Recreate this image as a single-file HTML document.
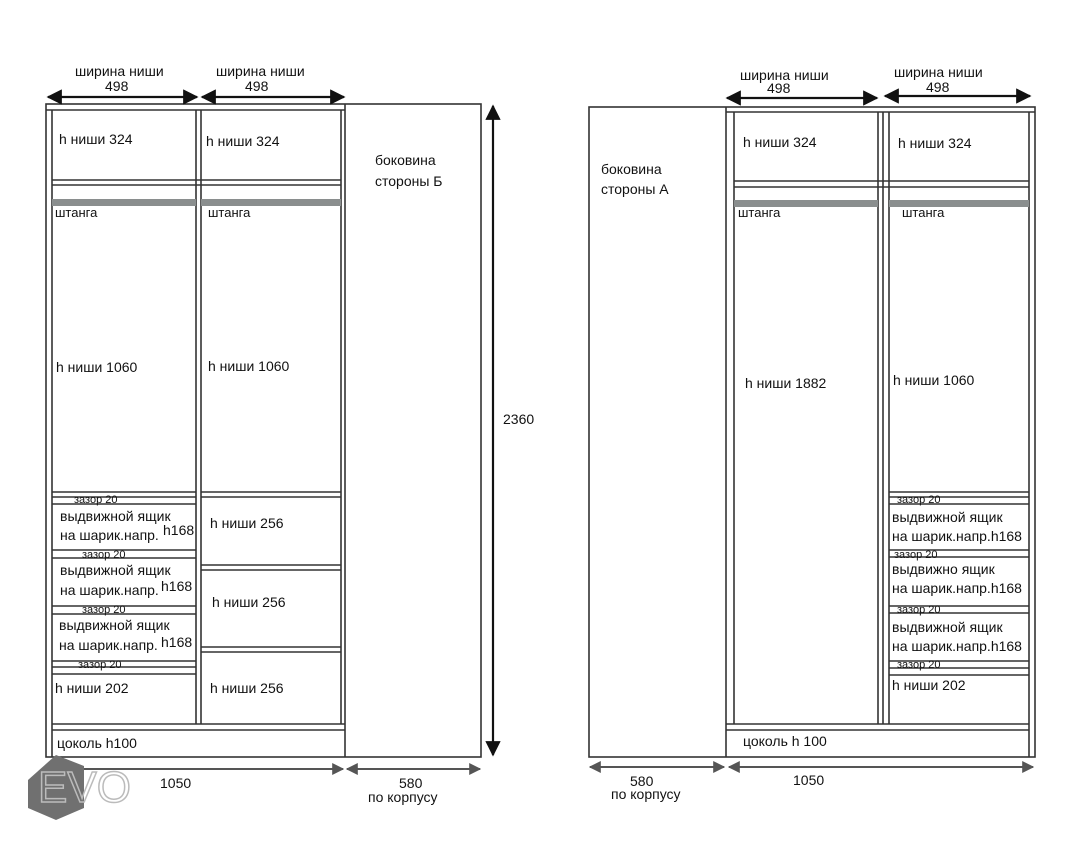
<!DOCTYPE html>
<html><head><meta charset="utf-8"><style>
body{margin:0;background:#fff;width:1080px;height:850px;overflow:hidden}
svg text{font-family:"Liberation Sans","DejaVu Sans",sans-serif;fill:#111}
</style></head><body>
<svg width="1080" height="850" viewBox="0 0 1080 850" xmlns="http://www.w3.org/2000/svg">
<defs>
<marker id="a" viewBox="0 0 10 10" refX="9" refY="5" markerWidth="7" markerHeight="7" orient="auto-start-reverse"><path d="M0,0L10,5L0,10z" fill="#111"/></marker>
<marker id="g" viewBox="0 0 10 10" refX="9" refY="5" markerWidth="6" markerHeight="6" orient="auto-start-reverse"><path d="M0,0L10,5L0,10z" fill="#555"/></marker>
</defs>
<g stroke="#333" stroke-width="1.6" fill="none">
<!-- LEFT UNIT -->
<rect x="46" y="104" width="435" height="653"/>
<line x1="345" y1="104" x2="345" y2="757"/>
<line x1="52" y1="110" x2="52" y2="757"/>
<line x1="341" y1="110" x2="341" y2="724"/>
<line x1="196" y1="110" x2="196" y2="724"/>
<line x1="201" y1="110" x2="201" y2="724"/>
<line x1="46" y1="110" x2="345" y2="110"/>
<line x1="52" y1="180" x2="341" y2="180"/><line x1="52" y1="185" x2="341" y2="185"/>
<line x1="52" y1="492" x2="196" y2="492"/><line x1="52" y1="497" x2="196" y2="497"/><line x1="52" y1="504" x2="196" y2="504"/>
<line x1="52" y1="550" x2="196" y2="550"/><line x1="52" y1="558" x2="196" y2="558"/>
<line x1="52" y1="606" x2="196" y2="606"/><line x1="52" y1="614" x2="196" y2="614"/>
<line x1="52" y1="661" x2="196" y2="661"/><line x1="52" y1="667" x2="196" y2="667"/><line x1="52" y1="674" x2="196" y2="674"/>
<line x1="201" y1="492" x2="341" y2="492"/><line x1="201" y1="497" x2="341" y2="497"/>
<line x1="201" y1="565" x2="341" y2="565"/><line x1="201" y1="570" x2="341" y2="570"/>
<line x1="201" y1="647" x2="341" y2="647"/><line x1="201" y1="652" x2="341" y2="652"/>
<line x1="52" y1="724" x2="345" y2="724"/><line x1="52" y1="730" x2="345" y2="730"/>
<!-- RIGHT UNIT -->
<rect x="589" y="107" width="446" height="650"/>
<line x1="726" y1="107" x2="726" y2="757"/>
<line x1="734" y1="112" x2="734" y2="724"/>
<line x1="878" y1="112" x2="878" y2="724"/><line x1="883" y1="112" x2="883" y2="724"/><line x1="889" y1="112" x2="889" y2="724"/>
<line x1="1029" y1="112" x2="1029" y2="757"/>
<line x1="726" y1="112" x2="1035" y2="112"/>
<line x1="734" y1="181" x2="1029" y2="181"/><line x1="734" y1="187" x2="1029" y2="187"/>
<line x1="889" y1="492" x2="1029" y2="492"/><line x1="889" y1="497" x2="1029" y2="497"/><line x1="889" y1="504" x2="1029" y2="504"/>
<line x1="889" y1="550" x2="1029" y2="550"/><line x1="889" y1="557" x2="1029" y2="557"/>
<line x1="889" y1="606" x2="1029" y2="606"/><line x1="889" y1="613" x2="1029" y2="613"/>
<line x1="889" y1="661" x2="1029" y2="661"/><line x1="889" y1="668" x2="1029" y2="668"/><line x1="889" y1="675" x2="1029" y2="675"/>
<line x1="726" y1="724" x2="1029" y2="724"/><line x1="726" y1="730" x2="1029" y2="730"/>
</g>
<g fill="#8a8e8e">
<rect x="52" y="199" width="144" height="7"/><rect x="201" y="199" width="140" height="7"/>
<rect x="734" y="200" width="144" height="7"/><rect x="889" y="200" width="140" height="7"/>
</g>
<!-- dimension arrows -->
<g stroke="#111" stroke-width="2.2" marker-start="url(#a)" marker-end="url(#a)">
<line x1="48" y1="97" x2="197" y2="97"/><line x1="202" y1="97" x2="344" y2="97"/>
<line x1="727" y1="98" x2="877" y2="98"/><line x1="885" y1="96" x2="1030" y2="96"/>
<line x1="493" y1="106" x2="493" y2="755"/>
</g>
<g stroke="#555" stroke-width="2" marker-start="url(#g)" marker-end="url(#g)">
<line x1="50" y1="769" x2="343" y2="769"/><line x1="347" y1="769" x2="480" y2="769"/>
<line x1="590" y1="767" x2="724" y2="767"/><line x1="729" y1="767" x2="1033" y2="767"/>
</g>
<!-- logo -->
<polygon points="28,780 56,755 84,766 84,808 56,820 28,808" fill="#707070"/>
<text x="38" y="802" font-size="44" fill="none" stroke="#bbb" stroke-width="1.5" style="fill:none">EVO</text>
<!-- text -->
<g font-size="14">
<text x="75" y="76">ширина ниши</text><text x="105" y="91">498</text>
<text x="216" y="76">ширина ниши</text><text x="245" y="91">498</text>
<text x="740" y="80">ширина ниши</text><text x="767" y="93">498</text>
<text x="894" y="77">ширина ниши</text><text x="926" y="92">498</text>
<text x="59" y="144">h ниши 324</text><text x="206" y="146">h ниши 324</text>
<text x="743" y="147">h ниши 324</text><text x="898" y="148">h ниши 324</text>
<text x="375" y="165">боковина</text><text x="375" y="186">стороны Б</text>
<text x="601" y="174">боковина</text><text x="601" y="194">стороны А</text>
<text x="56" y="372">h ниши 1060</text><text x="208" y="371">h ниши 1060</text>
<text x="745" y="388">h ниши 1882</text><text x="893" y="385">h ниши 1060</text>
<text x="503" y="424">2360</text>
<text x="210" y="528">h ниши 256</text><text x="212" y="607">h ниши 256</text><text x="210" y="693">h ниши 256</text>
<text x="55" y="693">h ниши 202</text><text x="892" y="690">h ниши 202</text>
<text x="60" y="521">выдвижной ящик</text><text x="60" y="540">на шарик.напр.</text><text x="163" y="535">h168</text>
<text x="60" y="575">выдвижной ящик</text><text x="60" y="595">на шарик.напр.</text><text x="161" y="591">h168</text>
<text x="59" y="630">выдвижной ящик</text><text x="59" y="650">на шарик.напр.</text><text x="161" y="647">h168</text>
<text x="892" y="522">выдвижной ящик</text><text x="892" y="541">на шарик.напр.h168</text>
<text x="892" y="574">выдвижно ящик</text><text x="892" y="593">на шарик.напр.h168</text>
<text x="892" y="632">выдвижной ящик</text><text x="892" y="651">на шарик.напр.h168</text>
<text x="57" y="748">цоколь h100</text><text x="743" y="746">цоколь h 100</text>
<text x="160" y="788">1050</text><text x="793" y="785">1050</text>
<text x="399" y="788">580</text><text x="368" y="802">по корпусу</text>
<text x="630" y="786">580</text><text x="611" y="799">по корпусу</text>
</g>
<g font-size="11">
<text x="55" y="217" font-size="13">штанга</text><text x="208" y="217" font-size="13">штанга</text>
<text x="738" y="217" font-size="13">штанга</text><text x="902" y="217" font-size="13">штанга</text>
<text x="74" y="503">зазор 20</text><text x="82" y="558">зазор 20</text><text x="82" y="613">зазор 20</text><text x="78" y="668">зазор 20</text>
<text x="897" y="503">зазор 20</text><text x="894" y="558">зазор 20</text><text x="897" y="613">зазор 20</text><text x="897" y="668">зазор 20</text>
</g>
</svg>
</body></html>
